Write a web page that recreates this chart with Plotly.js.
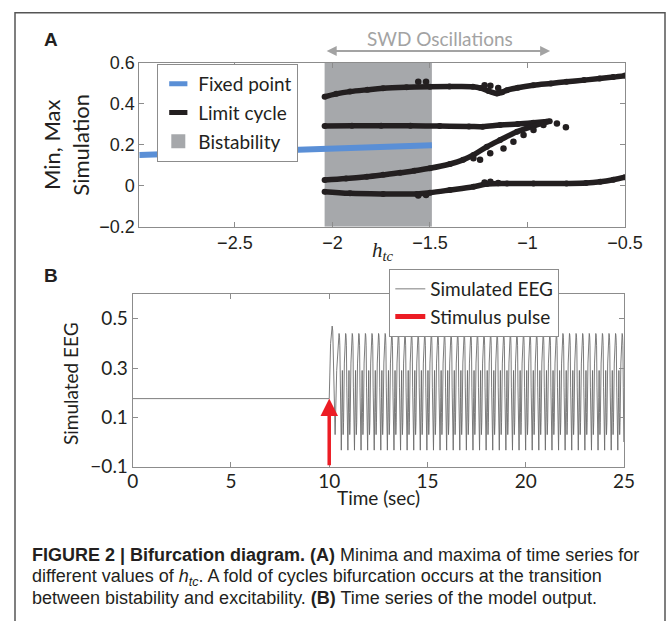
<!DOCTYPE html>
<html>
<head>
<meta charset="utf-8">
<script src="https://cdn.plot.ly/plotly-3.0.1.min.js"></script>
<style>html,body{margin:0;padding:0;background:#fff;}#chart{width:670px;height:621px;}</style>
</head>
<body>
<div id="chart"></div>
<script>
// ---------- Panel A data ----------
const bistabilityRange = [-2.04, -1.49];
const fixedX = [-2.99, -2.5, -2.0, -1.49];
const fixedY = [0.150, 0.163, 0.177, 0.197];

const max1X = [-2.04, -1.98, -1.91, -1.82, -1.74, -1.62, -1.50, -1.40, -1.28, -1.24, -1.20, -1.157, -1.13, -1.105, -1.05, -0.97, -0.88, -0.80, -0.71, -0.63, -0.56, -0.50];
const max1Y = [0.434, 0.448, 0.459, 0.468, 0.475, 0.480, 0.483, 0.484, 0.483, 0.476, 0.462, 0.450, 0.456, 0.466, 0.478, 0.490, 0.499, 0.507, 0.515, 0.523, 0.530, 0.537];

const max2X = [-2.04, -1.90, -1.75, -1.60, -1.45, -1.30, -1.23, -1.14, -1.05, -0.97, -0.886];
const max2Y = [0.291, 0.292, 0.292, 0.292, 0.291, 0.289, 0.288, 0.296, 0.301, 0.307, 0.314];

const min2X = [-2.04, -1.93, -1.824, -1.74, -1.653, -1.58, -1.50, -1.397, -1.33, -1.277, -1.208, -1.14, -1.054, -0.969, -0.90];
const min2Y = [0.028, 0.035, 0.044, 0.053, 0.063, 0.073, 0.085, 0.106, 0.126, 0.150, 0.190, 0.223, 0.263, 0.291, 0.312];

const min2bX = [-1.277, -1.243, -1.191, -1.123, -1.072, -1.02, -0.969, -0.918];
const min2bY = [0.134, 0.126, 0.158, 0.182, 0.215, 0.247, 0.272, 0.296];

const min1X = [-2.04, -1.91, -1.74, -1.567, -1.50, -1.397, -1.277, -1.208, -1.105, -0.969, -0.80, -0.70, -0.627, -0.56, -0.50];
const min1Y = [-0.029, -0.037, -0.040, -0.040, -0.034, -0.021, -0.005, 0.008, 0.011, 0.011, 0.011, 0.013, 0.019, 0.029, 0.041];

const outlierX = [-1.56, -1.52, -1.56, -1.52, -1.22, -1.19, -1.15, -1.22, -1.19, -1.15, -0.849, -0.803];
const outlierY = [0.507, 0.507, -0.048, -0.045, 0.490, 0.488, 0.476, 0.016, 0.019, 0.013, 0.304, 0.285];

const xTicksA = [-2.5, -2, -1.5, -1, -0.5];
const yTicksA = [-0.2, 0, 0.2, 0.4, 0.6];
const swdArrow = [-2.037, -0.884];

// ---------- Panel B data ----------
const eegOnsetT = [0, 10.0, 10.07, 10.12, 10.15, 10.18, 10.22, 10.30, 10.38];
const eegOnsetY = [0.176, 0.176, 0.40, 0.46, 0.47, 0.45, 0.30, 0.03, 0.29];
const eegCycleOffsets = [0.00, 0.012, 0.025, 0.04, 0.06, 0.085, 0.10, 0.115, 0.15, 0.17, 0.19, 0.21, 0.23, 0.27, 0.295, 0.31, 0.323];
const eegCycleValues  = [0.44, 0.437, 0.425, 0.39, 0.22, 0.0, -0.033, -0.033, 0.18, 0.29, 0.12, 0.03, 0.08, 0.32, 0.39, 0.425, 0.437];
const eegPeriod = 0.335;
const eegCycleStart = 10.5;
const eegEnd = 25;
const stimT = 10.0;
const stimY = [-0.1, 0.176];
const xTicksB = [0, 5, 10, 15, 20, 25];
const yTicksB = [-0.1, 0.1, 0.3, 0.5];

// build EEG series from onset + repeated read cycle
const eegT = eegOnsetT.slice(), eegY = eegOnsetY.slice();
for (let c = eegCycleStart; c < eegEnd; c += eegPeriod) {
  for (let i = 0; i < eegCycleOffsets.length; i++) {
    const t = c + eegCycleOffsets[i];
    if (t > eegEnd) break;
    eegT.push(t); eegY.push(eegCycleValues[i]);
  }
}

const W = 670, H = 621;
const px = v => v / W, py = v => 1 - v / H;
const BLACK = '#231f20', BLUE = '#5a8fd6', GRAYR = '#a6a8ab', AX = '#8c8c8c';
const tickFont = {family: 'Liberation Sans, Arial, sans-serif', size: 18, color: BLACK};
const tickFontB = {family: 'Lato, sans-serif', size: 19, color: BLACK};
const legFont = {family: 'Lato, sans-serif', size: 19, color: BLACK};
const capFont = {family: 'Liberation Sans, Arial', size: 18, color: BLACK};

const lcStyle = {mode: 'lines+markers', line: {color: BLACK, width: 5.5, shape: 'spline'}, marker: {color: BLACK, size: 6}, showlegend: false, xaxis: 'x', yaxis: 'y', hoverinfo: 'skip'};

const traces = [
  {x: [bistabilityRange[0], bistabilityRange[1], bistabilityRange[1], bistabilityRange[0]], y: [yTicksA[0], yTicksA[0], yTicksA[4], yTicksA[4]], fill: 'toself', fillcolor: GRAYR, mode: 'none', showlegend: false, xaxis: 'x', yaxis: 'y'},
  {x: fixedX, y: fixedY, mode: 'lines', line: {color: BLUE, width: 6}, showlegend: false, xaxis: 'x', yaxis: 'y'},
  Object.assign({x: max1X, y: max1Y}, lcStyle),
  Object.assign({x: max2X, y: max2Y}, lcStyle),
  Object.assign({x: min2X, y: min2Y}, lcStyle),
  Object.assign({x: min2bX, y: min2bY}, lcStyle, {mode: 'markers', marker: {color: BLACK, size: 6.5}}),
  Object.assign({x: min1X, y: min1Y}, lcStyle),
  {x: outlierX, y: outlierY, mode: 'markers', marker: {color: BLACK, size: 6.5}, showlegend: false, xaxis: 'x', yaxis: 'y'},
  // legend entries A
  {x: [null], y: [null], name: 'Fixed point', mode: 'markers', marker: {symbol: 'line-ew-open', size: 13, color: BLUE, line: {color: BLUE, width: 5}}, xaxis: 'x', yaxis: 'y', legend: 'legend', legendgroup: 'a1'},
  {x: [null], y: [null], name: 'Limit cycle', mode: 'markers', marker: {symbol: 'line-ew-open', size: 13, color: BLACK, line: {color: BLACK, width: 5}}, xaxis: 'x', yaxis: 'y', legend: 'legend', legendgroup: 'a2'},
  {x: [null], y: [null], name: 'Bistability', mode: 'markers', marker: {symbol: 'square', size: 14, color: GRAYR}, xaxis: 'x', yaxis: 'y', legend: 'legend', legendgroup: 'a3'},
  // Panel B
  {x: eegT, y: eegY, mode: 'lines', name: 'Simulated EEG', line: {color: '#6d6d6d', width: 0.9}, xaxis: 'x2', yaxis: 'y2', legend: 'legend2', legendgroup: 'b1'},
  {x: [null], y: [null], mode: 'lines', name: 'Stimulus pulse', line: {color: '#ec1c24', width: 5}, xaxis: 'x2', yaxis: 'y2', legend: 'legend2', legendgroup: 'b2'}
];

const axCommon = {showline: true, mirror: 'ticks', linecolor: AX, linewidth: 1, ticks: 'inside', ticklen: 5, tickcolor: AX, showgrid: false, zeroline: false};

const layout = {
  width: W, height: H, margin: {l: 0, r: 0, t: 0, b: 0},
  paper_bgcolor: '#fff', plot_bgcolor: '#fff',
  xaxis: Object.assign({}, axCommon, {domain: [px(139.3), px(625)], range: [-2.99, -0.5], tickvals: xTicksA, tickfont: tickFont, anchor: 'y'}),
  yaxis: Object.assign({}, axCommon, {domain: [py(226.7), py(62.7)], range: [-0.2, 0.6], tickvals: yTicksA, tickfont: tickFont, anchor: 'x'}),
  xaxis2: Object.assign({}, axCommon, {domain: [px(132.7), px(624)], range: [0, 25], tickvals: xTicksB, tickfont: tickFontB, anchor: 'y2', ticklabelstandoff: -3}),
  yaxis2: Object.assign({}, axCommon, {domain: [py(466.7), py(294)], range: [-0.1, 0.6], tickvals: yTicksB, tickfont: tickFontB, anchor: 'x2'}),
  legend: {x: px(157.3), y: py(64), xanchor: 'left', yanchor: 'top', bgcolor: '#fff', bordercolor: AX, borderwidth: 1, font: legFont, traceorder: 'grouped', tracegroupgap: 1, itemwidth: 30},
  legend2: {x: px(389.3), y: py(269), xanchor: 'left', yanchor: 'top', bgcolor: '#fff', bordercolor: AX, borderwidth: 1, font: legFont, traceorder: 'grouped', tracegroupgap: 0, itemwidth: 30},
  shapes: [
    {type: 'rect', xref: 'paper', yref: 'paper', x0: px(15), x1: px(665), y0: -0.05, y1: py(12.7), line: {color: '#555', width: 1.5}, fillcolor: 'rgba(0,0,0,0)'}
  ],
  annotations: [
    {text: '<b>A</b>', xref: 'paper', yref: 'paper', x: px(42), y: py(40), xanchor: 'left', yanchor: 'middle', showarrow: false, font: {family: 'Liberation Sans, Arial', size: 19, color: BLACK}},
    {text: '<b>B</b>', xref: 'paper', yref: 'paper', x: px(42), y: py(275), xanchor: 'left', yanchor: 'middle', showarrow: false, font: {family: 'Liberation Sans, Arial', size: 19, color: BLACK}},
    {text: 'Min, Max<br>Simulation', xref: 'paper', yref: 'paper', x: px(66), y: py(144.7), xanchor: 'center', yanchor: 'middle', textangle: -90, showarrow: false, font: {family: 'Lato, sans-serif', size: 22, color: BLACK}},
    {text: '<i>h</i><sub><i>tc</i></sub>', xref: 'paper', yref: 'paper', x: px(383), y: py(251), xanchor: 'center', yanchor: 'middle', showarrow: false, font: {family: 'Liberation Serif, serif', size: 21, color: BLACK}},
    {text: 'SWD Oscillations', xref: 'paper', yref: 'paper', x: px(440), y: py(38.3), xanchor: 'center', yanchor: 'middle', showarrow: false, font: {family: 'Lato, sans-serif', size: 19, color: '#a3a3a3'}},
    {text: '', xref: 'x', yref: 'paper', x: swdArrow[1], y: py(51), axref: 'x', ayref: 'pixel', ax: swdArrow[0], ay: 0, showarrow: true, arrowside: 'end+start', arrowhead: 2, arrowsize: 1, arrowwidth: 2, arrowcolor: '#a3a3a3'},
    {text: 'Simulated EEG', xref: 'paper', yref: 'paper', x: px(70), y: py(384), xanchor: 'center', yanchor: 'middle', textangle: -90, showarrow: false, font: {family: 'Lato, sans-serif', size: 19, color: BLACK}},
    {text: 'Time (sec)', xref: 'paper', yref: 'paper', x: px(378), y: py(497), xanchor: 'center', yanchor: 'middle', showarrow: false, font: {family: 'Lato, sans-serif', size: 19, color: BLACK}},
    {text: '', xref: 'x2', yref: 'y2', x: stimT, y: stimY[1], axref: 'x2', ayref: 'y2', ax: stimT, ay: stimY[0], showarrow: true, arrowhead: 2, arrowsize: 1, arrowwidth: 3.5, arrowcolor: '#ec1c24'},
    {text: '<b>FIGURE 2 | Bifurcation diagram. (A)</b> Minima and maxima of time series for', xref: 'paper', yref: 'paper', x: px(30), y: py(555), xanchor: 'left', yanchor: 'middle', align: 'left', showarrow: false, font: capFont},
    {text: 'different values of <i>h</i><sub><i>tc</i></sub>. A fold of cycles bifurcation occurs at the transition', xref: 'paper', yref: 'paper', x: px(30), y: py(577), xanchor: 'left', yanchor: 'middle', align: 'left', showarrow: false, font: capFont},
    {text: 'between bistability and excitability. <b>(B)</b> Time series of the model output.', xref: 'paper', yref: 'paper', x: px(30), y: py(598), xanchor: 'left', yanchor: 'middle', align: 'left', showarrow: false, font: capFont}
  ]
};

Plotly.newPlot('chart', traces, layout, {staticPlot: true, displayModeBar: false});
</script>
</body>
</html>
